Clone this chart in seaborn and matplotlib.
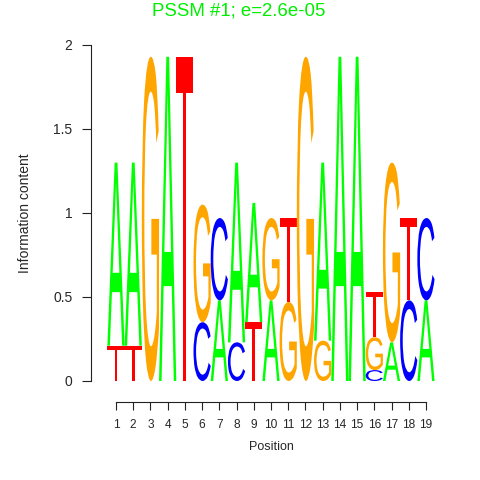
import matplotlib
matplotlib.use("Agg")
import matplotlib.pyplot as plt
import numpy as np
import pandas as pd
import seaborn as sns
from matplotlib.textpath import TextPath
from matplotlib.patches import PathPatch
from matplotlib.font_manager import FontProperties
from matplotlib.transforms import Affine2D

# ---- data (information content per letter) ----
positions = list(range(1, 20))
A_bits = [1.09, 1.09, 0.00, 1.93, 0.00, 0.00, 0.48, 1.07, 0.71, 0.48, 0.00, 0.00, 1.06, 1.93, 1.93, 0.00, 0.23, 0.00, 0.48]
C_bits = [0.00, 0.00, 0.00, 0.00, 0.00, 0.35, 0.49, 0.23, 0.00, 0.00, 0.00, 0.00, 0.00, 0.00, 0.00, 0.065, 0.00, 0.48, 0.49]
G_bits = [0.00, 0.00, 1.93, 0.00, 0.00, 0.70, 0.00, 0.00, 0.00, 0.49, 0.47, 1.93, 0.24, 0.00, 0.00, 0.195, 1.07, 0.00, 0.00]
T_bits = [0.21, 0.21, 0.00, 0.00, 1.93, 0.00, 0.00, 0.00, 0.35, 0.00, 0.50, 0.00, 0.00, 0.00, 0.00, 0.27, 0.00, 0.49, 0.00]
letters = ["A", "C", "G", "T"]
letter_colors = {"A": "#00FF00", "C": "#0000FF", "G": "#FFA500", "T": "#FF0000"}
title_text = "PSSM #1; e=2.6e-05"
y_ticks = [0, 0.5, 1, 1.5, 2]
y_tick_labels = ["0", "0.5", "1", "1.5", "2"]

df = pd.DataFrame({"A": A_bits, "C": C_bits, "G": G_bits, "T": T_bits}, index=positions)

sns.set_style("ticks")
plt.rcParams["font.family"] = ["Liberation Sans", "DejaVu Sans"]

fig = plt.figure(figsize=(4.8, 4.8), dpi=100)
W = H = 480.0
ax_l, ax_r, ax_t, ax_b = 91, 440, 45, 381
ax = fig.add_axes([ax_l / W, (H - ax_b) / H, (ax_r - ax_l) / W, (ax_b - ax_t) / H])

px_per_unit = 17.22
x_left = 1 - (116 - ax_l) / px_per_unit
x_right = 1 + (ax_r - 116) / px_per_unit
ax.set_xlim(x_left, x_right)
ax.set_ylim(0, 2)

glyph_font = FontProperties(family="Liberation Sans", weight="normal")


def draw_letter(ax, ch, x, y0, h, color):
    tp = TextPath((0, 0), ch, size=1, prop=glyph_font)
    ext = tp.get_extents()
    tr = (Affine2D()
          .translate(-ext.x0, -ext.y0)
          .scale(1.0 / ext.width, h / ext.height)
          .translate(x - 0.5, y0))
    path = tr.transform_path(tp)
    ax.add_patch(PathPatch(path, facecolor=color, edgecolor="none", lw=0))


for pos in positions:
    row = df.loc[pos]
    items = sorted([(row[l], l) for l in letters if row[l] > 0])
    y = 0.0
    for val, l in items:
        draw_letter(ax, l, pos, y, val, letter_colors[l])
        y += val

# axes styling (R base graphics look)
for s in ["top", "right"]:
    ax.spines[s].set_visible(False)
ax.spines["left"].set_bounds(0, 2)
ax.spines["bottom"].set_bounds(1, 19)
ax.spines["bottom"].set_position(("outward", 15))
for s in ["left", "bottom"]:
    ax.spines[s].set_linewidth(0.8)
    ax.spines[s].set_color("#222222")

ax.set_yticks(y_ticks)
ax.set_yticklabels(y_tick_labels, fontsize=10)
ax.set_xticks(positions)
ax.set_xticklabels([str(p) for p in positions], fontsize=8.6)
ax.tick_params(axis="y", direction="out", length=6.5, width=0.8, pad=7, color="#222222")
ax.tick_params(axis="x", direction="out", length=5.5, width=0.8, pad=7, color="#222222")

ax.set_ylabel("Information content", fontsize=10)
ax.yaxis.set_label_coords((32 - ax_l) / (ax_r - ax_l), 0.5)
ax.set_xlabel("Position", fontsize=9)
ax.xaxis.set_label_coords((271 - ax_l) / (ax_r - ax_l), (ax_b - 441) / (ax_b - ax_t))
ax.xaxis.label.set_va("top")

fig.text(239 / W, 1 - 15 / H, title_text, color="#00EE00", fontsize=13.4,
         ha="center", va="baseline")

fig.savefig("out.png", dpi=100)
